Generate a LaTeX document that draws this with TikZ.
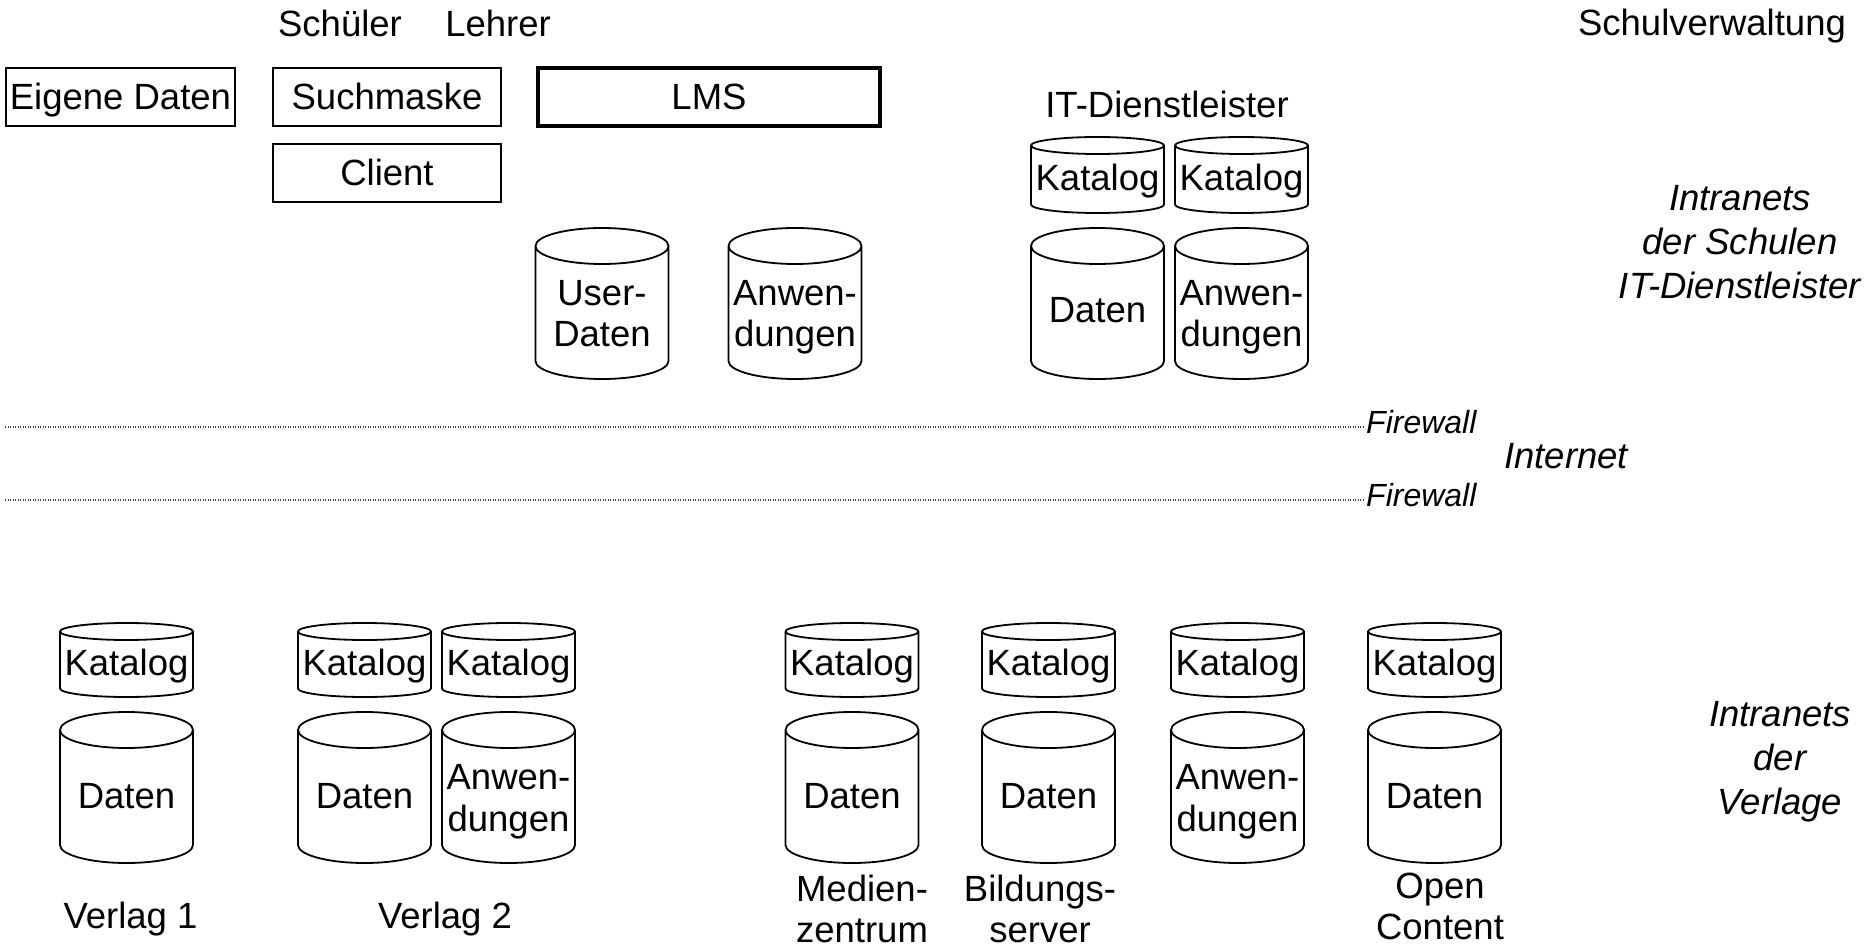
\documentclass[tikz,border=0pt]{standalone}
\usepackage{fontspec}
\setmainfont{Liberation Sans}
\newcommand{\dbcyl}[4]{% x, y centre, height, ry
  \draw[cylline] (#1-66.5,#2-#3/2+#4) -- (#1-66.5,#2+#3/2-#4)
     arc[start angle=180,end angle=360,x radius=66.5pt,y radius=#4pt]
     -- (#1+66.5,#2-#3/2+#4)
     arc[start angle=0,end angle=180,x radius=66.5pt,y radius=#4pt] -- cycle
     (#1-66.5,#2-#3/2+#4) arc[start angle=180,end angle=360,x radius=66.5pt,y radius=#4pt];}
\tikzset{
  txt/.style={font=\fontsize{36.5}{41.5}\selectfont, inner sep=0pt, align=center, anchor=base},
  itxt/.style={font=\fontsize{36.5}{44}\selectfont\itshape, inner sep=0pt, align=center, anchor=base},
  fwtxt/.style={font=\fontsize{32}{34}\selectfont\itshape, inner sep=0pt, anchor=base west},
  boxn/.style={draw, line width=2pt, inner sep=0pt, minimum height=58pt,
    font=\fontsize{36.5}{40}\selectfont, text height=26pt, text depth=0pt},
  cylline/.style={line width=1.8pt},
  fwline/.style={dash pattern=on 1pt off 1.5pt, line width=1.2pt, black!75},
}
\begin{document}
\begin{tikzpicture}[x=1pt,y=-1pt]
\useasboundingbox (0,0) rectangle (1875,949);
% header
\node[txt] (schueler) at (340,37) {Schüler};
\node[txt] (lehrer) at (498,37) {Lehrer};
\node[txt] (schulverw) at (1712,36) {Schulverwaltung};
% boxes
\node[boxn, minimum width=229pt] (eigen) at (120.5,97) {Eigene Daten};
\node[boxn, minimum width=228pt] (such) at (387,97) {Suchmaske};
\node[boxn, minimum width=228pt] (client) at (387,173) {Client};
\node[boxn, minimum width=342pt, line width=3.5pt] (lms) at (709,97) {LMS};
% IT-Dienstleister
\node[txt] (itd) at (1167,118) {IT-Dienstleister};
\dbcyl{1097.5}{175}{76}{8.5}
\dbcyl{1241.5}{175}{76}{8.5}
\node[txt] (itkat1) at (1097.5,191) {Katalog};
\node[txt] (itkat2) at (1241.5,191) {Katalog};
\dbcyl{602}{303.5}{151}{18}
\dbcyl{795}{303.5}{151}{18}
\dbcyl{1097.5}{303.5}{151}{18}
\dbcyl{1241.5}{303.5}{151}{18}
\node[txt] (userdaten) at (602,347) {User-\\Daten};
\node[txt] (lmsanw) at (795,347) {Anwen-\\dungen};
\node[txt] (itdaten) at (1097.5,323) {Daten};
\node[txt] (itanw) at (1241.5,347) {Anwen-\\dungen};
\node[itxt] (intra1) at (1740,299) {Intranets\\der Schulen\\IT-Dienstleister};
% firewalls
\coordinate (fw1a) at (5,427);
\coordinate (fw1b) at (1364,427);
\coordinate (fw2a) at (5,500);
\coordinate (fw2b) at (1364,500);
\draw[fwline] (fw1a) -- (fw1b);
\draw[fwline] (fw2a) -- (fw2b);
\node[fwtxt] (fwl1) at (1366,434) {Firewall};
\node[fwtxt] (fwl2) at (1366,507) {Firewall};
\node[itxt] (internet) at (1566,468) {Internet};
% Verlage
\foreach \x/\n in {126.5/a,364.5/b,508.5/c,852/d,1048.5/e,1237.5/f,1434.5/g}{
  \dbcyl{\x}{660}{74}{8.5}
  \dbcyl{\x}{787.5}{151}{18}
  \node[txt] (kat\n) at (\x,675) {Katalog};
}
\node[txt] (da) at (126.5,808) {Daten};
\node[txt] (db) at (364.5,808) {Daten};
\node[txt] (dc) at (508.5,831) {Anwen-\\dungen};
\node[txt] (dd) at (852,808) {Daten};
\node[txt] (de) at (1048.5,808) {Daten};
\node[txt] (df) at (1237.5,831) {Anwen-\\dungen};
\node[txt] (dg) at (1434.5,808) {Daten};
\node[txt] (v1) at (130.5,928) {Verlag 1};
\node[txt] (v2) at (445,928) {Verlag 2};
\node[txt, font=\fontsize{36.5}{41}\selectfont] (mz) at (862,942) {Medien-\\zentrum};
\node[txt, font=\fontsize{36.5}{41}\selectfont] (bs) at (1040,942) {Bildungs-\\server};
\node[txt, font=\fontsize{36.5}{41}\selectfont] (oc) at (1440,939) {Open\\Content};
\node[itxt] (intra2) at (1780,814) {Intranets\\der\\Verlage};
\end{tikzpicture}
\end{document}
